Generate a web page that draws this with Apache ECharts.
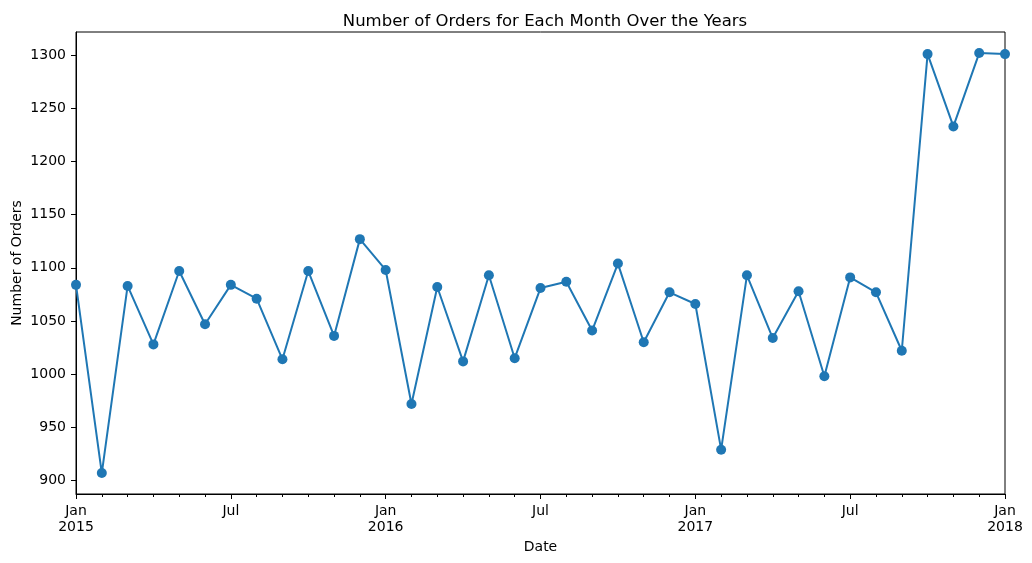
<!DOCTYPE html>
<html>
<head>
<meta charset="utf-8">
<script src="https://cdn.jsdelivr.net/npm/echarts@6/dist/echarts.min.js"></script>
<style>
  html, body { margin: 0; padding: 0; background: #fff; }
  #main { width: 1032px; height: 563px; }
</style>
</head>
<body>
<div id="main"></div>
<script>
// monthly order counts, Jan 2015 .. Jan 2018
var months = [
  '2015-01','2015-02','2015-03','2015-04','2015-05','2015-06',
  '2015-07','2015-08','2015-09','2015-10','2015-11','2015-12',
  '2016-01','2016-02','2016-03','2016-04','2016-05','2016-06',
  '2016-07','2016-08','2016-09','2016-10','2016-11','2016-12',
  '2017-01','2017-02','2017-03','2017-04','2017-05','2017-06',
  '2017-07','2017-08','2017-09','2017-10','2017-11','2017-12',
  '2018-01'
];
var orders = [
  1084, 907, 1083, 1028, 1097, 1047, 1084, 1071, 1014, 1097, 1036, 1127,
  1098, 972, 1082, 1012, 1093, 1015, 1081, 1087, 1041, 1104, 1030, 1077,
  1066, 929, 1093, 1034, 1078, 998, 1091, 1077, 1022, 1301, 1233, 1302,
  1301
];
// major x tick labels (every 6 months)
var xTickLabels = ['Jan\n2015', 'Jul', 'Jan\n2016', 'Jul', 'Jan\n2017', 'Jul', 'Jan\n2018'];
var yTicks = [900, 950, 1000, 1050, 1100, 1150, 1200, 1250, 1300];

var lineColor = '#1f77b4';
var font = 'DejaVu Sans';

var chart = echarts.init(document.getElementById('main'));

var seriesData = [];
for (var i = 0; i < orders.length; i++) {
    seriesData.push([i, orders[i]]);
}

var option = {
    animation: false,
    backgroundColor: '#fff',
    textStyle: { fontFamily: font },
    title: {
        text: 'Number of Orders for Each Month Over the Years',
        left: 540,
        top: 8,
        textAlign: 'center',
        textStyle: { fontFamily: font, fontSize: 16.5, fontWeight: 'normal', color: '#000' }
    },
    grid: {
        left: 76,
        right: 27,
        top: 32,
        bottom: 69,
        outerBoundsMode: 'none',
        containLabel: false,
        show: true,
        borderColor: '#000',
        borderWidth: 1,
        backgroundColor: 'transparent'
    },
    xAxis: {
        type: 'value',
        min: 0,
        max: months.length - 1,
        interval: 6,
        name: 'Date',
        nameLocation: 'middle',
        nameGap: 46,
        nameMoveOverlap: false,
        nameTextStyle: { fontFamily: font, fontSize: 14, color: '#000' },
        axisLine: { show: true, lineStyle: { color: '#000', width: 1 } },
        axisTick: { show: true, length: 5, lineStyle: { color: '#000' } },
        minorTick: { show: true, splitNumber: 6, length: 3, lineStyle: { color: '#000' } },
        splitLine: { show: false },
        axisLabel: {
            margin: 9,
            color: '#000',
            fontFamily: font,
            fontSize: 14,
            lineHeight: 16,
            formatter: function (v) {
                return xTickLabels[Math.round(v / 6)] || '';
            }
        }
    },
    yAxis: {
        type: 'value',
        min: 887.3,
        max: 1321.8,
        name: 'Number of Orders',
        nameLocation: 'middle',
        nameGap: 52,
        nameMoveOverlap: false,
        nameTextStyle: { fontFamily: font, fontSize: 14, color: '#000' },
        axisLine: { show: true, lineStyle: { color: '#000', width: 1 } },
        axisTick: { show: true, length: 5, customValues: yTicks, lineStyle: { color: '#000' } },
        splitLine: { show: false },
        axisLabel: {
            margin: 10,
            color: '#000',
            fontFamily: font,
            fontSize: 14,
            customValues: yTicks,
            formatter: function (v) { return String(v); }
        }
    },
    series: [{
        type: 'line',
        data: seriesData,
        symbol: 'circle',
        symbolSize: 10,
        showAllSymbol: true,
        itemStyle: { color: lineColor },
        lineStyle: { color: lineColor, width: 2 }
    }]
};

chart.setOption(option);
</script>
</body>
</html>
